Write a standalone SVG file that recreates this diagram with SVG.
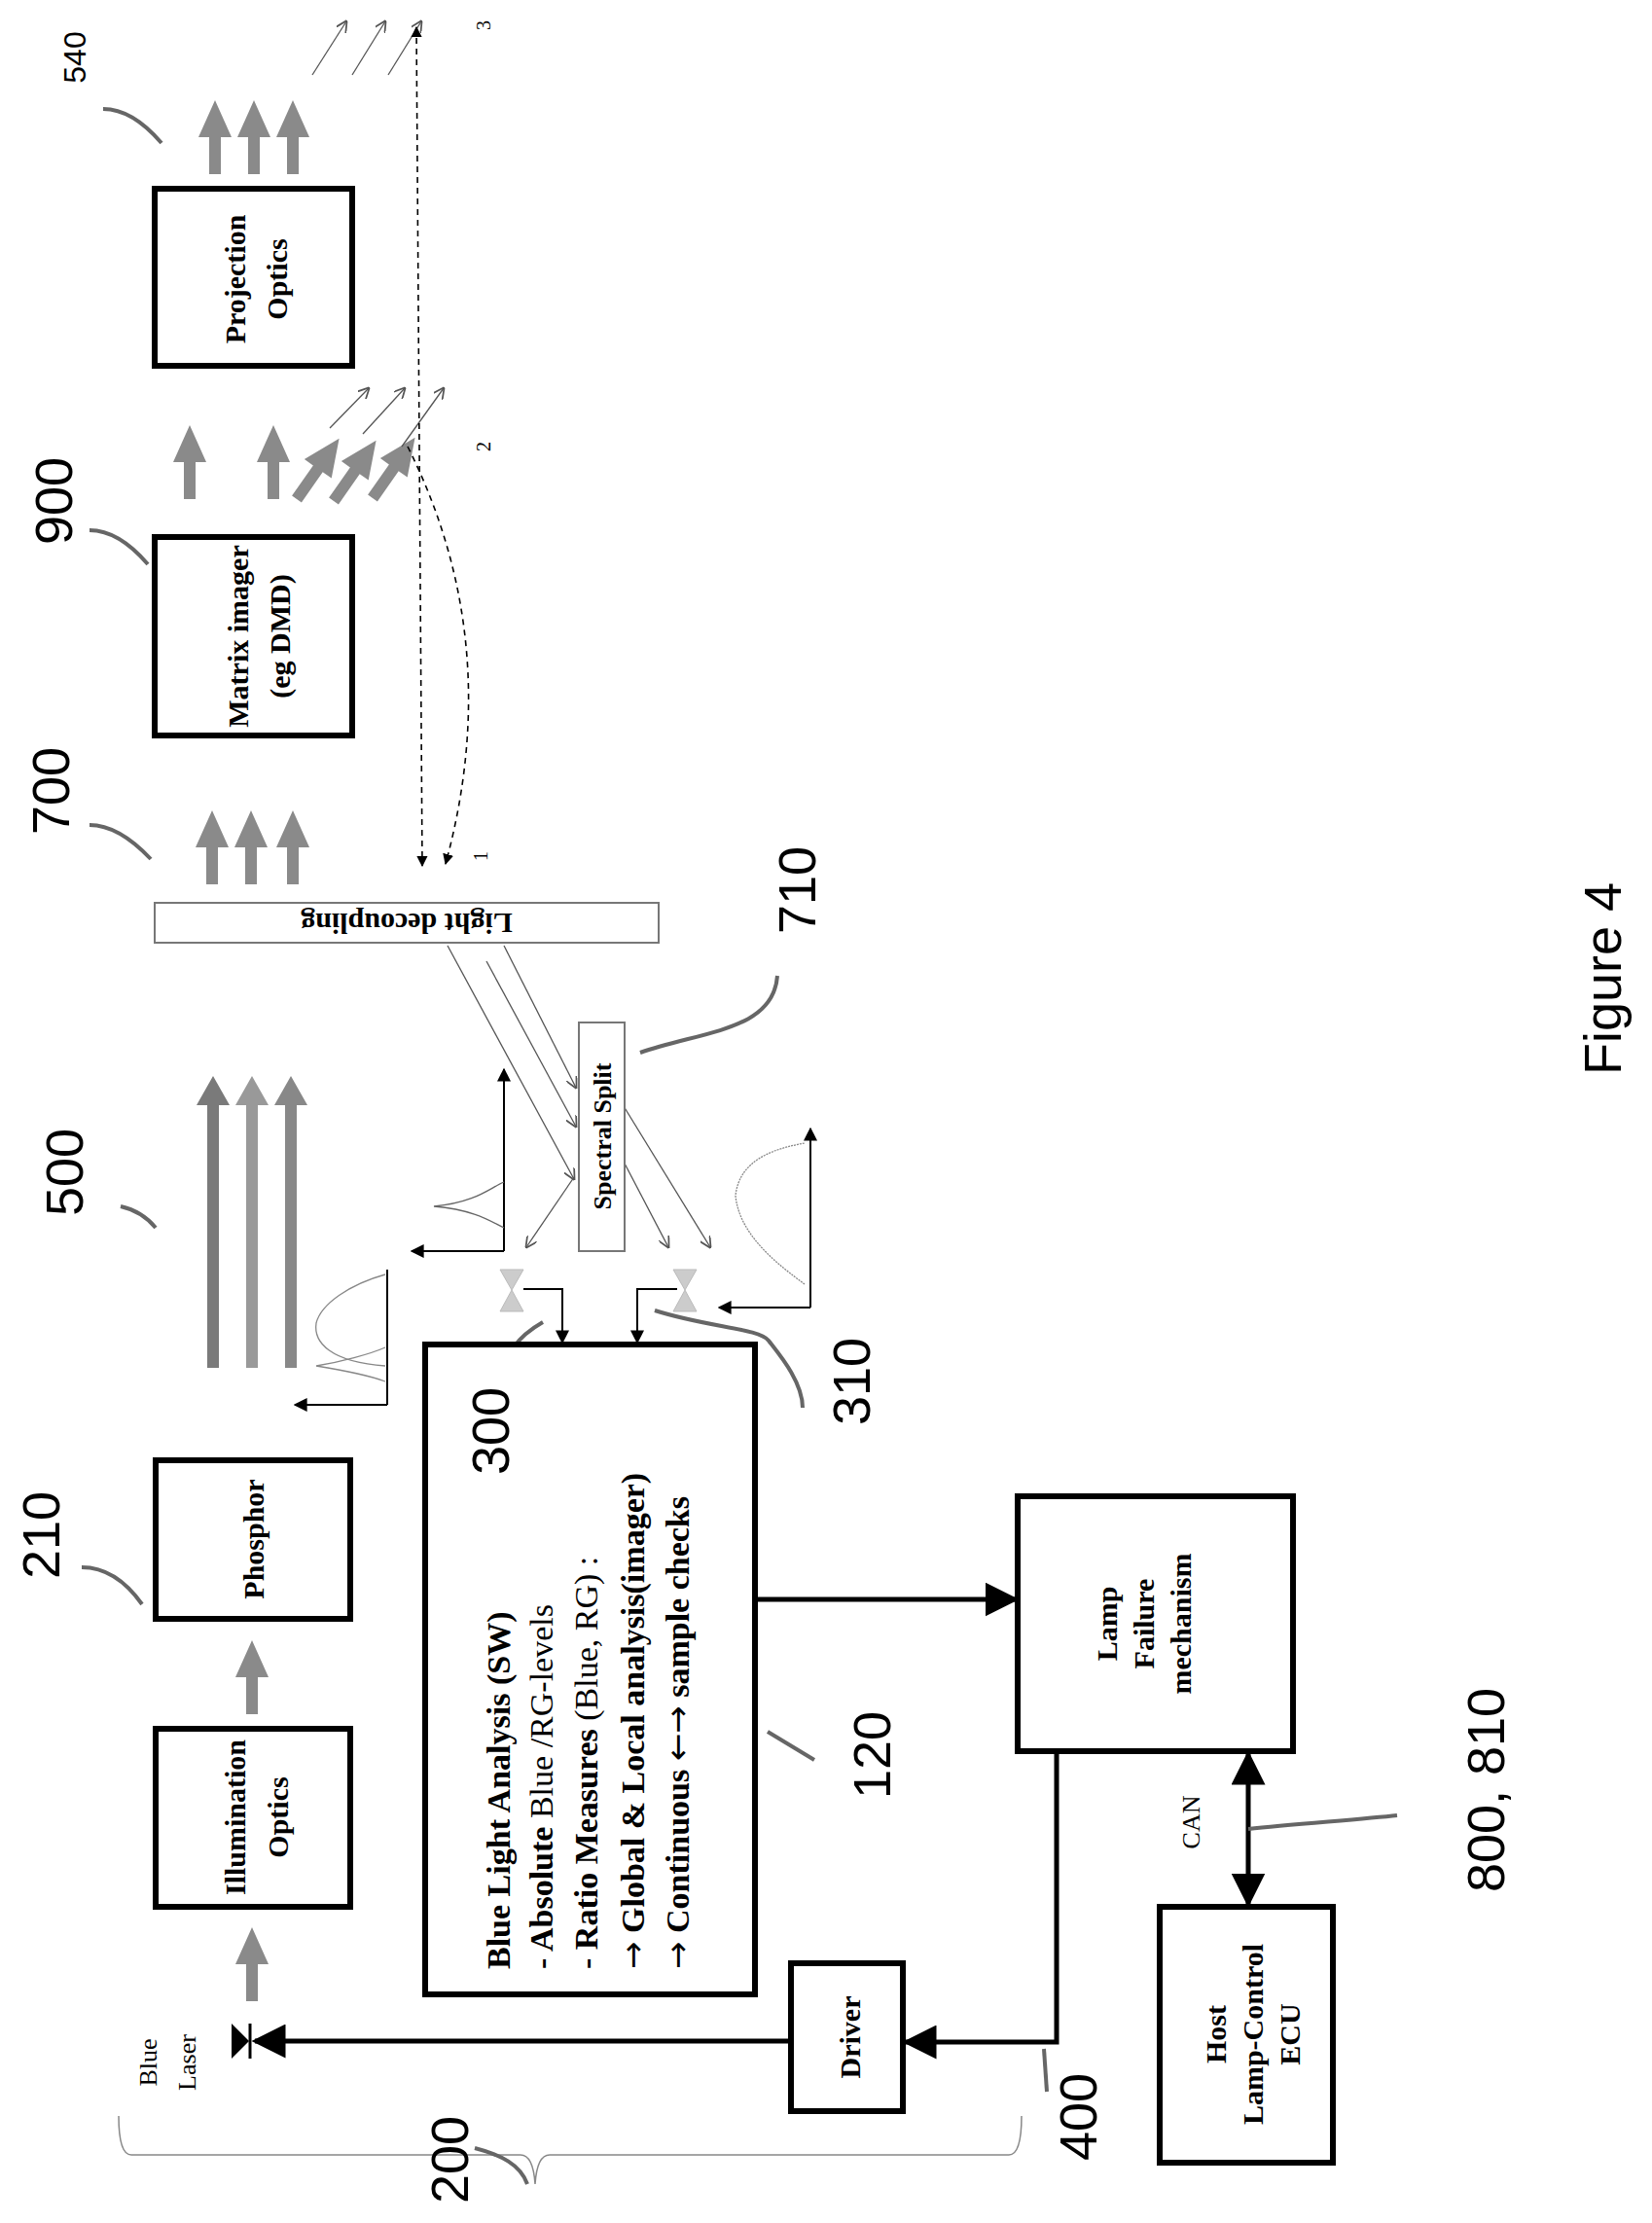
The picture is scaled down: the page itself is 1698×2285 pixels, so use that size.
<svg xmlns="http://www.w3.org/2000/svg" width="1698" height="2285" viewBox="0 0 1698 2285">
<style>
.box{fill:#fff;stroke:#000;stroke-width:6}
.bar{fill:#fff;stroke:#777;stroke-width:2}
.t{font-family:"Liberation Serif",serif;font-weight:bold;font-size:30px;fill:#000}
.n{font-family:"Liberation Sans",sans-serif;font-size:54px;fill:#000}
.s{font-family:"Liberation Serif",serif;font-size:20px;fill:#000}
.ar{font-family:"DejaVu Sans",sans-serif;font-weight:normal}
.ln{fill:none;stroke:#000;stroke-width:2}
.thk{fill:none;stroke:#000;stroke-width:5}
.th{fill:none;stroke:#555;stroke-width:1.3}
.sq{fill:none;stroke:#666;stroke-width:4}
.ds{fill:none;stroke:#000;stroke-width:1.6;stroke-dasharray:6,5}
.ga{fill:#8a8a8a}
.pd{fill:#ccc;stroke:#bbb}
</style>
<defs>
<marker id="ah" viewBox="0 0 10 10" refX="9" refY="5" markerWidth="7" markerHeight="7" orient="auto-start-reverse"><path d="M0,0 L10,5 L0,10 Z" fill="#000"/></marker>
<marker id="ahs" viewBox="0 0 10 10" refX="9" refY="5" markerWidth="9" markerHeight="9" orient="auto-start-reverse"><path d="M0,0 L10,5 L0,10" fill="none" stroke="#555" stroke-width="1.5"/></marker>
<path id="ua" d="M-6,0 V-38 H-17 L0,-76 L17,-38 H6 V0 Z"/>
<path id="ta" d="M-6,0 V-270 H-17 L0,-300 L17,-270 H6 V0 Z"/>
</defs>

<g id="connectors">
<use href="#ua" class="ga" x="259" y="2057"/>
<use href="#ua" class="ga" x="259" y="1762"/>
<use href="#ta" fill="#7a7a7a" x="219" y="1406"/>
<use href="#ta" fill="#999" x="259" y="1406"/>
<use href="#ta" fill="#888" x="299" y="1406"/>
<use href="#ua" class="ga" x="218" y="909"/>
<use href="#ua" class="ga" x="258" y="909"/>
<use href="#ua" class="ga" x="301" y="909"/>
<use href="#ua" class="ga" x="221" y="179"/>
<use href="#ua" class="ga" x="261" y="179"/>
<use href="#ua" class="ga" x="301" y="179"/>
<use href="#ua" class="ga" x="195" y="513"/>
<use href="#ua" class="ga" x="281" y="513"/>
<use href="#ua" class="ga" transform="translate(305,513) rotate(35)"/>
<use href="#ua" class="ga" transform="translate(343,515) rotate(35)"/>
<use href="#ua" class="ga" transform="translate(383,512) rotate(35)"/>
<path class="th" marker-end="url(#ahs)" d="M339,440 L379,399"/>
<path class="th" marker-end="url(#ahs)" d="M373,446 L416,399"/>
<path class="th" marker-end="url(#ahs)" d="M413,459 L456,399"/>
<path class="th" marker-end="url(#ahs)" d="M321,77 L356,22"/>
<path class="th" marker-end="url(#ahs)" d="M362,77 L396,22"/>
<path class="th" marker-end="url(#ahs)" d="M399,77 L433,22"/>
<path class="ds" marker-start="url(#ah)" marker-end="url(#ah)" d="M428,28 L434,890"/>
<path class="ds" marker-end="url(#ah)" d="M419,459 Q520,660 458,888"/>
<text class="s" transform="translate(494,880) rotate(-90)" text-anchor="middle" dominant-baseline="central">1</text>
<text class="s" transform="translate(497,459) rotate(-90)" text-anchor="middle" dominant-baseline="central">2</text>
<text class="s" transform="translate(497,26) rotate(-90)" text-anchor="middle" dominant-baseline="central">3</text>
<path class="th" marker-end="url(#ahs)" d="M460,972 L590,1212"/>
<path class="th" marker-end="url(#ahs)" d="M500,988 L592,1158"/>
<path class="th" marker-end="url(#ahs)" d="M518,972 L592,1118"/>
<path class="th" marker-end="url(#ahs)" d="M590,1210 L541,1282"/>
<path class="th" marker-end="url(#ahs)" d="M641,1137 L730,1282"/>
<path class="th" marker-end="url(#ahs)" d="M641,1194 L687,1282"/>
<path class="ln" marker-end="url(#ah)" d="M518,1286 V1099"/>
<path class="ln" marker-end="url(#ah)" d="M518,1286 H423"/>
<path fill="none" stroke="#666" stroke-width="1.3" d="M518,1215 C505,1220 490,1236 446,1240 C490,1244 505,1256 518,1262"/>
<path class="ln" marker-end="url(#ah)" d="M833,1344 V1160"/>
<path class="ln" marker-end="url(#ah)" d="M833,1344 H739"/>
<path fill="none" stroke="#888" stroke-width="1.3" stroke-dasharray="2,1" d="M827,1320 C800,1300 760,1270 756,1229 C760,1190 800,1180 827,1175"/>
<path class="ln" d="M398,1305 V1444"/>
<path class="ln" marker-end="url(#ah)" d="M398,1444 H303"/>
<path fill="none" stroke="#888" stroke-width="1.3" d="M396,1310 C360,1320 330,1340 325,1360 C322,1380 340,1400 396,1404 M396,1385 C380,1392 350,1400 325,1404 C350,1408 380,1414 396,1420"/>
<polygon class="pd" points="514,1305 538,1305 526,1326"/>
<polygon class="pd" points="514,1348 538,1348 526,1326"/>
<polygon class="pd" points="692,1305 716,1305 704,1326"/>
<polygon class="pd" points="692,1348 716,1348 704,1326"/>
<path class="ln" marker-end="url(#ah)" d="M538,1325 H578 V1380"/>
<path class="ln" marker-end="url(#ah)" d="M696,1325 H655 V1380"/>
<path class="thk" marker-end="url(#ah)" d="M777,1644 H1044"/>
<path class="thk" marker-end="url(#ah)" d="M1086,1800 V2099 H931"/>
<path class="thk" marker-end="url(#ah)" d="M813,2098 H262"/>
<path class="thk" marker-start="url(#ah)" marker-end="url(#ah)" d="M1283,1803 V1957"/>
<polygon points="238,2080 238,2116 256,2098" fill="#000"/>
<path d="M257,2080 V2116" stroke="#000" stroke-width="3"/>
<path fill="none" stroke="#888" stroke-width="1.5" d="M122,2175 Q122,2215 135,2215 H535 Q548,2215 550,2245 Q552,2215 565,2215 H1037 Q1050,2215 1050,2175"/>
<path class="sq" d="M92,848 q30,0 63,35"/>
<path class="sq" d="M92,545 q30,0 60,35"/>
<path class="sq" d="M106,112 q30,0 60,35"/>
<path class="sq" d="M84,1611 q35,0 62,38"/>
<path class="sq" d="M124,1240 q22,5 36,22"/>
<path class="sq" d="M658,1082 C720,1060 795,1060 799,1003"/>
<path class="sq" d="M558,1359 C530,1375 518,1395 518,1416"/>
<path class="sq" d="M673,1347 C730,1365 780,1365 790,1378 S825,1420 825,1447"/>
<path class="sq" d="M789,1780 L837,1809"/>
<path class="sq" d="M1073,2106 L1076,2150"/>
<path class="sq" d="M1283,1880 C1330,1875 1400,1870 1436,1866"/>
<path class="sq" d="M488,2208 C515,2215 535,2225 542,2245"/>
</g>

<g id="illum"><rect class="box" x="160" y="1777" width="200" height="183"/>
<text class="t" transform="translate(241,1868) rotate(-90)" text-anchor="middle" dominant-baseline="central">Illumination</text>
<text class="t" transform="translate(285,1868) rotate(-90)" text-anchor="middle" dominant-baseline="central">Optics</text></g>
<g id="phosphor"><rect class="box" x="160" y="1501" width="200" height="163"/>
<text class="t" transform="translate(260,1582) rotate(-90)" text-anchor="middle" dominant-baseline="central">Phosphor</text></g>
<g id="matrix"><rect class="box" x="159" y="552" width="203" height="204"/>
<text class="t" transform="translate(244,654) rotate(-90)" text-anchor="middle" dominant-baseline="central">Matrix imager</text>
<text class="t" transform="translate(287,654) rotate(-90)" text-anchor="middle" dominant-baseline="central">(eg DMD)</text></g>
<g id="projection"><rect class="box" x="159" y="194" width="203" height="182"/>
<text class="t" transform="translate(241,287) rotate(-90)" text-anchor="middle" dominant-baseline="central">Projection</text>
<text class="t" transform="translate(284,287) rotate(-90)" text-anchor="middle" dominant-baseline="central">Optics</text></g>
<g id="decoupling"><rect class="bar" x="159" y="928" width="518" height="41"/>
<text class="t" transform="translate(418,949) rotate(180)" text-anchor="middle" dominant-baseline="central">Light decoupling</text></g>
<g id="split"><rect class="bar" x="595" y="1051" width="47" height="235"/>
<text class="t" style="font-size:26px" transform="translate(619,1168) rotate(-90)" text-anchor="middle" dominant-baseline="central">Spectral Split</text></g>
<g id="analysis"><rect class="box" x="437" y="1382" width="339" height="668"/>
<g class="t" style="font-size:34px">
<text transform="translate(512,2024) rotate(-90)" dominant-baseline="central">Blue Light Analysis (SW)</text>
<text transform="translate(556,2024) rotate(-90)" dominant-baseline="central">- Absolute <tspan font-weight="normal">Blue /RG-levels</tspan></text>
<text transform="translate(602,2024) rotate(-90)" dominant-baseline="central">- Ratio Measures <tspan font-weight="normal">(Blue, RG) :</tspan></text>
<text transform="translate(650,2024) rotate(-90)" dominant-baseline="central"><tspan class="ar">→</tspan> Global &amp; Local analysis(imager)</text>
<text transform="translate(696,2024) rotate(-90)" dominant-baseline="central"><tspan class="ar">→</tspan> Continuous <tspan class="ar">←→</tspan> sample checks</text>
</g></g>
<g id="lamp"><rect class="box" x="1046" y="1538" width="283" height="262"/>
<text class="t" transform="translate(1137,1669) rotate(-90)" text-anchor="middle" dominant-baseline="central">Lamp</text>
<text class="t" transform="translate(1175,1669) rotate(-90)" text-anchor="middle" dominant-baseline="central">Failure</text>
<text class="t" transform="translate(1213,1669) rotate(-90)" text-anchor="middle" dominant-baseline="central">mechanism</text></g>
<g id="driver"><rect class="box" x="813" y="2018" width="115" height="152"/>
<text class="t" transform="translate(873,2094) rotate(-90)" text-anchor="middle" dominant-baseline="central">Driver</text></g>
<g id="host"><rect class="box" x="1192" y="1960" width="178" height="263"/>
<text class="t" transform="translate(1249,2091) rotate(-90)" text-anchor="middle" dominant-baseline="central">Host</text>
<text class="t" transform="translate(1287,2091) rotate(-90)" text-anchor="middle" dominant-baseline="central">Lamp-Control</text>
<text class="t" transform="translate(1325,2091) rotate(-90)" text-anchor="middle" dominant-baseline="central">ECU</text></g>

<g id="labels">
<text class="s" style="font-size:26px" transform="translate(152,2120) rotate(-90)" text-anchor="middle" dominant-baseline="central">Blue</text>
<text class="s" style="font-size:26px" transform="translate(192,2120) rotate(-90)" text-anchor="middle" dominant-baseline="central">Laser</text>
<text class="s" style="font-size:26px" transform="translate(1224,1873) rotate(-90)" text-anchor="middle" dominant-baseline="central">CAN</text>
<text class="n" transform="translate(462,2220) rotate(-90)" text-anchor="middle" dominant-baseline="central">200</text>
<text class="n" transform="translate(42,1578) rotate(-90)" text-anchor="middle" dominant-baseline="central">210</text>
<text class="n" transform="translate(66,1205) rotate(-90)" text-anchor="middle" dominant-baseline="central">500</text>
<text class="n" transform="translate(52,813) rotate(-90)" text-anchor="middle" dominant-baseline="central">700</text>
<text class="n" transform="translate(55,515) rotate(-90)" text-anchor="middle" dominant-baseline="central">900</text>
<text class="n" style="font-size:32px" transform="translate(77,59) rotate(-90)" text-anchor="middle" dominant-baseline="central">540</text>
<text class="n" transform="translate(819,915) rotate(-90)" text-anchor="middle" dominant-baseline="central">710</text>
<text class="n" transform="translate(504,1471) rotate(-90)" text-anchor="middle" dominant-baseline="central">300</text>
<text class="n" transform="translate(875,1420) rotate(-90)" text-anchor="middle" dominant-baseline="central">310</text>
<text class="n" transform="translate(896,1804) rotate(-90)" text-anchor="middle" dominant-baseline="central">120</text>
<text class="n" transform="translate(1108,2176) rotate(-90)" text-anchor="middle" dominant-baseline="central">400</text>
<text class="n" transform="translate(1527,1840) rotate(-90)" text-anchor="middle" dominant-baseline="central">800, 810</text>
<text class="n" transform="translate(1647,1006) rotate(-90)" text-anchor="middle" dominant-baseline="central">Figure 4</text>
</g>
</svg>
